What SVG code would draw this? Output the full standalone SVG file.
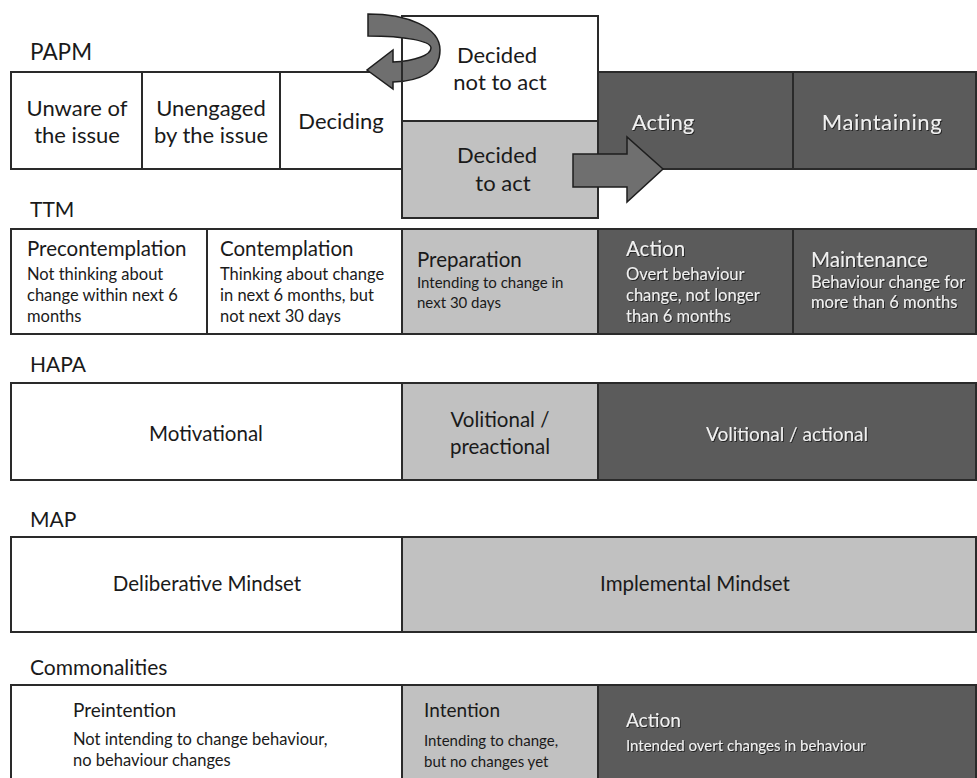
<svg xmlns="http://www.w3.org/2000/svg" width="977" height="778" viewBox="0 0 977 778">
<defs>
<style>
text{font-family:Lato,"Open Sans","Liberation Sans",sans-serif;fill:#1a1a1a}
.lbl{font-size:21px}
.big{font-size:22px}
.mid{font-size:20.5px}
.hd{font-size:20.5px}
.sub{font-size:16.5px}
.hd2{font-size:19px}
.sub2{font-size:15px}
.c{text-anchor:middle}
.w{fill:#ffffff;stroke:#2a2a2a;stroke-width:2}
.l{fill:#c1c1c1;stroke:#2a2a2a;stroke-width:2}
.d{fill:#5b5b5b;stroke:#2a2a2a;stroke-width:2}
.lt{fill:#f0f0f0;filter:url(#sh)}
.arr{fill:#6f6f6f;stroke:#1e1e1e;stroke-width:1.5;stroke-linejoin:miter}
</style>
<filter id="sh" x="-10%" y="-30%" width="120%" height="160%">
<feDropShadow dx="1" dy="1" stdDeviation="0.6" flood-color="#1a1a1a" flood-opacity="0.9"/>
</filter>
</defs>
<rect width="977" height="778" fill="#ffffff"/>

<g id="labels">
<text class="lbl" x="30" y="60" style="font-size:22.5px">PAPM</text>
<text class="lbl" x="30" y="217">TTM</text>
<text class="lbl" x="30" y="372">HAPA</text>
<text class="lbl" x="30" y="527">MAP</text>
<text class="lbl" x="30" y="675">Commonalities</text>
</g>

<g id="papm-unaware"><rect class="w" x="11" y="72" width="131" height="97"/>
<text class="big c" x="77" y="116">Unware of</text><text class="big c" x="77" y="143">the issue</text></g>
<g id="papm-unengaged"><rect class="w" x="142" y="72" width="138" height="97"/>
<text class="big c" x="211" y="116">Unengaged</text><text class="big c" x="211" y="143">by the issue</text></g>
<g id="papm-deciding"><rect class="w" x="280" y="72" width="122" height="97"/>
<text class="big c" x="341" y="129">Deciding</text></g>
<g id="papm-decided-not"><rect class="w" x="402" y="16" width="196" height="105"/>
<text class="big c" x="497" y="63">Decided</text><text class="big c" x="500" y="90">not to act</text></g>
<g id="papm-decided-to"><rect class="l" x="402" y="121" width="196" height="97"/>
<text class="big c" x="497" y="163">Decided</text><text class="big c" x="503" y="191">to act</text></g>
<g id="papm-acting"><rect class="d" x="598" y="72" width="195" height="97"/>
<text class="big c lt" x="663" y="130">Acting</text></g>
<g id="papm-maintaining"><rect class="d" x="793" y="72" width="183" height="97"/>
<text class="big c lt" x="882" y="130" style="letter-spacing:0.6px">Maintaining</text></g>

<g id="connectors">
<path class="arr" d="M368,14 C407,14 440,27 440,50 C440,72 420,81 393,82 L393,89 L367,70 L393,50 L393,62 C415,61 431,55 431,48 C431,41 405,36 368,36 Z"/>
<line x1="402" y1="37" x2="402" y2="84" stroke="#2a2a2a" stroke-width="2"/>
<path class="arr" d="M573,154 L627,154 L627,137 L663,169 L627,202 L627,187 L573,187 Z"/>
</g>

<g id="ttm-precontemplation"><rect class="w" x="11" y="229" width="196" height="105"/>
<text class="hd" x="27" y="256">Precontemplation</text>
<text class="sub" x="27" y="280">Not thinking about</text><text class="sub" x="27" y="301">change within next 6</text><text class="sub" x="27" y="322">months</text></g>
<g id="ttm-contemplation"><rect class="w" x="207" y="229" width="195" height="105"/>
<text class="hd" x="220" y="256">Contemplation</text>
<text class="sub" x="220" y="280">Thinking about change</text><text class="sub" x="220" y="301">in next 6 months, but</text><text class="sub" x="220" y="322">not next 30 days</text></g>
<g id="ttm-preparation"><rect class="l" x="402" y="229" width="196" height="105"/>
<text class="hd" x="417" y="267">Preparation</text>
<text class="sub2" x="417" y="288">Intending to change in</text><text class="sub2" x="417" y="308">next 30 days</text></g>
<g id="ttm-action"><rect class="d" x="598" y="229" width="195" height="105"/>
<text class="hd lt" x="626" y="256">Action</text>
<text class="sub lt" x="626" y="280">Overt behaviour</text><text class="sub lt" x="626" y="301">change, not longer</text><text class="sub lt" x="626" y="322">than 6 months</text></g>
<g id="ttm-maintenance"><rect class="d" x="793" y="229" width="183" height="105"/>
<text class="hd lt" x="811" y="267">Maintenance</text>
<text class="sub lt" x="811" y="288">Behaviour change for</text><text class="sub lt" x="811" y="308">more than 6 months</text></g>

<g id="hapa-motivational"><rect class="w" x="11" y="383" width="391" height="97"/>
<text class="mid c" x="206" y="441">Motivational</text></g>
<g id="hapa-preactional"><rect class="l" x="402" y="383" width="196" height="97"/>
<text class="mid c" x="500" y="427">Volitional /</text><text class="mid c" x="500" y="454">preactional</text></g>
<g id="hapa-actional"><rect class="d" x="598" y="383" width="378" height="97"/>
<text class="mid c lt" x="787" y="441" style="font-size:19px">Volitional / actional</text></g>

<g id="map-deliberative"><rect class="w" x="11" y="537" width="391" height="95"/>
<text class="mid c" x="207" y="591">Deliberative Mindset</text></g>
<g id="map-implemental"><rect class="l" x="402" y="537" width="574" height="95"/>
<text class="mid c" x="695" y="591">Implemental Mindset</text></g>

<g id="com-preintention"><rect class="w" x="11" y="685" width="391" height="110"/>
<text class="hd2" x="73" y="717">Preintention</text>
<text class="sub" x="73" y="745">Not intending to change behaviour,</text><text class="sub" x="73" y="766">no behaviour changes</text></g>
<g id="com-intention"><rect class="l" x="402" y="685" width="196" height="110"/>
<text class="hd2" x="424" y="717">Intention</text>
<text class="sub2" x="424" y="746">Intending to change,</text><text class="sub2" x="424" y="767">but no changes yet</text></g>
<g id="com-action"><rect class="d" x="598" y="685" width="378" height="110"/>
<text class="hd2 lt" x="626" y="727">Action</text>
<text class="sub2 lt" x="626" y="751">Intended overt changes in behaviour</text></g>
</svg>
